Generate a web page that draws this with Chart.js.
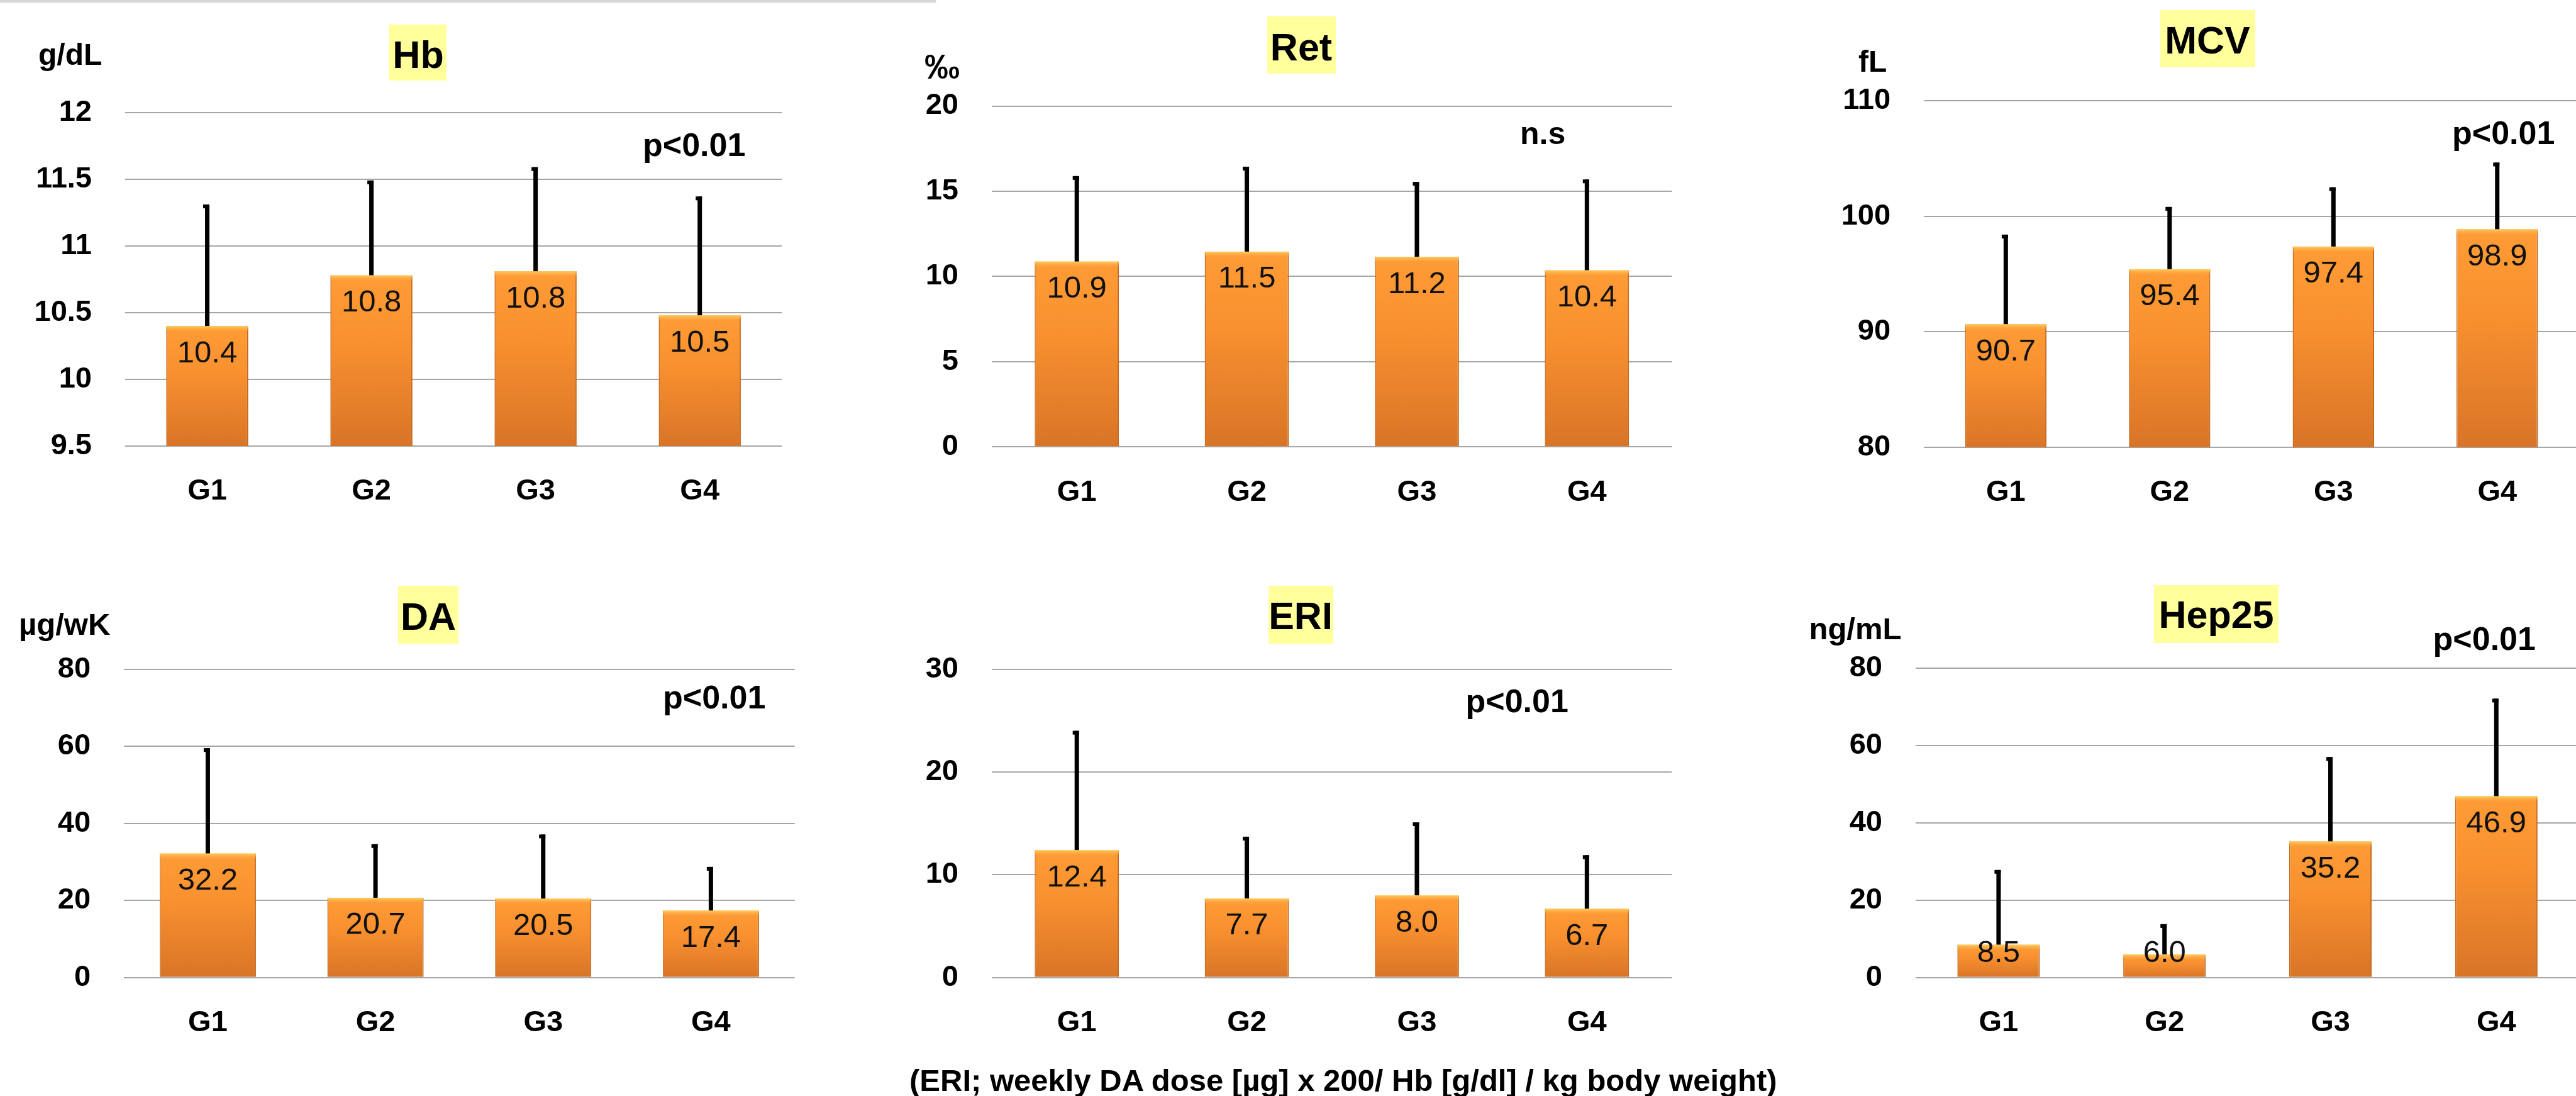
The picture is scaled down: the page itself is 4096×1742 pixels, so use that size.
<!DOCTYPE html>
<html>
<head>
<meta charset="utf-8">
<script src="https://cdn.jsdelivr.net/npm/chart.js@4.4.1/dist/chart.umd.min.js"></script>
<style>
  html, body { margin: 0; padding: 0; background: #fff; overflow: hidden; width: 4096px; height: 1742px; }
  body { position: relative; }
  canvas { position: absolute; }
  #topline { position: absolute; left: 0; top: 0; width: 1488px; height: 3px; background: #d6d6d6; box-shadow: 0 1px 3px rgba(0,0,0,0.18); }
  #note { position: absolute; left: 1446px; top: 1693px; font: bold 49px "Liberation Sans", Arial, sans-serif; line-height: 49px; white-space: nowrap; color: #000; }
</style>
</head>
<body>
<div id="topline"></div>
<div id="note">(ERI; weekly DA dose [µg] x 200/ Hb [g/dl] / kg body weight)</div>
<script>
const FONT = '"Liberation Sans", Arial, sans-serif';

const groups = ['G1', 'G2', 'G3', 'G4'];

// Hb, g/dL
const hbMean  = [10.40, 10.78, 10.81, 10.48];
const hbUpper = [11.31, 11.49, 11.59, 11.37];
const hbTicks = [9.5, 10, 10.5, 11, 11.5, 12];

// Ret, permille
const retMean  = [10.88, 11.46, 11.16, 10.37];
const retUpper = [15.89, 16.44, 15.55, 15.69];
const retTicks = [0, 5, 10, 15, 20];

// MCV, fL
const mcvMean  = [90.67, 95.43, 97.39, 98.89];
const mcvUpper = [98.42, 100.82, 102.52, 104.66];
const mcvTicks = [80, 90, 100, 110];

// DA, ug/wK
const daMean  = [32.2, 20.7, 20.5, 17.4];
const daUpper = [59.5, 34.6, 37.1, 28.7];
const daTicks = [0, 20, 40, 60, 80];

// ERI
const eriMean  = [12.4, 7.7, 8.0, 6.7];
const eriUpper = [24.0, 13.7, 15.1, 11.9];
const eriTicks = [0, 10, 20, 30];

// Hep25, ng/mL
const hepMean  = [8.5, 6.0, 35.2, 46.9];
const hepUpper = [27.8, 13.8, 57.0, 72.1];
const hepTicks = [0, 20, 40, 60, 80];

// page layout (px): canvas box, plot area, bar width share, texts
const panels = [
  { box: [0, 0, 1363, 843], area: [199, 178.7, 1243.2, 709], bar: 0.5,
    mean: hbMean, upper: hbUpper, ticks: hbTicks,
    title: { text: 'Hb', cx: 665, base: 107.6, hl: [618, 39, 710, 128] },
    texts: [{ text: 'g/dL', x: 61, base: 103.3, size: 48 }, { text: 'p<0.01', x: 1022, base: 247.6, size: 52 }] },
  { box: [1363, 0, 2726, 843], area: [1577, 168.5, 2658.5, 710.4], bar: 0.495,
    mean: retMean, upper: retUpper, ticks: retTicks,
    title: { text: 'Ret', cx: 2069, base: 95.8, hl: [2015, 26, 2124, 117] },
    texts: [{ text: '‰', x: 1470, base: 124.9, size: 56 }, { text: 'n.s', x: 2417, base: 228.7, size: 50 }] },
  { box: [2726, 0, 4110, 843], area: [3059.1, 160.4, 4101, 711], bar: 0.497,
    mean: mcvMean, upper: mcvUpper, ticks: mcvTicks,
    title: { text: 'MCV', cx: 3510, base: 85, hl: [3435, 16, 3586, 107] },
    texts: [{ text: 'fL', x: 2955, base: 114.1, size: 48 }, { text: 'p<0.01', x: 3899, base: 228.7, size: 52 }] },
  { box: [0, 843, 1363, 1742], area: [197.1, 1063.6, 1263.7, 1553.7], bar: 0.574,
    mean: daMean, upper: daUpper, ticks: daTicks,
    title: { text: 'DA', cx: 681, base: 1001.2, hl: [633, 931, 729, 1023] },
    texts: [{ text: 'µg/wK', x: 30, base: 1008.7, size: 49 }, { text: 'p<0.01', x: 1054, base: 1126, size: 52 }] },
  { box: [1363, 843, 2726, 1742], area: [1577, 1063.6, 2658.5, 1553.7], bar: 0.495,
    mean: eriMean, upper: eriUpper, ticks: eriTicks,
    title: { text: 'ERI', cx: 2068, base: 1000.1, hl: [2017, 931, 2120, 1023] },
    texts: [{ text: 'p<0.01', x: 2330.5, base: 1131.8, size: 52 }] },
  { box: [2726, 843, 4110, 1742], area: [3046, 1061.9, 4101.2, 1553.7], bar: 0.497,
    mean: hepMean, upper: hepUpper, ticks: hepTicks,
    title: { text: 'Hep25', cx: 3524, base: 998.4, hl: [3425, 930, 3623, 1022] },
    texts: [{ text: 'ng/mL', x: 2876.5, base: 1015.6, size: 49 }, { text: 'p<0.01', x: 3868.6, base: 1032.7, size: 52 }] }
];

const X_AXIS_H = 100;

function barFill(c) {
  if (c.type !== 'data' || !c.chart.chartArea) return '#F28C2E';
  const yS = c.chart.scales.y;
  const top = yS.getPixelForValue(c.raw);
  const bot = yS.getPixelForValue(yS.min);
  const g = c.chart.ctx.createLinearGradient(0, top, 0, bot);
  g.addColorStop(0, '#FF9C35');
  g.addColorStop(0.4, '#F8902F');
  g.addColorStop(1, '#D87427');
  return g;
}

function makeChart(p) {
  const [bx, by, bx2, by2] = p.box;
  const W = bx2 - bx, H = by2 - by;
  const cv = document.createElement('canvas');
  cv.width = W; cv.height = H;
  cv.style.left = bx + 'px'; cv.style.top = by + 'px';
  cv.style.width = W + 'px'; cv.style.height = H + 'px';
  document.body.appendChild(cv);

  const decor = {
    id: 'decor',
    beforeDatasetsDraw(chart) {
      const ctx = chart.ctx;
      ctx.save();
      ctx.translate(-bx, -by);
      const t = p.title;
      ctx.fillStyle = '#FFFF9B';
      ctx.fillRect(t.hl[0], t.hl[1], t.hl[2] - t.hl[0], t.hl[3] - t.hl[1]);
      ctx.fillStyle = '#000';
      ctx.textBaseline = 'alphabetic';
      ctx.textAlign = 'center';
      ctx.font = 'bold 61px ' + FONT;
      ctx.fillText(t.text, t.cx, t.base);
      ctx.textAlign = 'left';
      p.texts.forEach(s => {
        ctx.font = 'bold ' + s.size + 'px ' + FONT;
        ctx.fillText(s.text, s.x, s.base);
      });
      ctx.restore();
    },
    afterDatasetsDraw(chart) {
      const ctx = chart.ctx;
      const yS = chart.scales.y;
      const meta = chart.getDatasetMeta(0);
      ctx.save();
      meta.data.forEach((el, i) => {
        const { x, y, width, base } = el.getProps(['x', 'y', 'width', 'base'], true);
        // light rim on top of the bar
        const g = ctx.createLinearGradient(0, y, 0, y + 9);
        g.addColorStop(0, 'rgba(255,205,100,1)');
        g.addColorStop(1, 'rgba(255,170,70,0)');
        ctx.fillStyle = g;
        ctx.fillRect(x - width / 2, y, width, 9);
        // value label
        ctx.fillStyle = '#111';
        ctx.font = '49px ' + FONT;
        ctx.textAlign = 'center';
        ctx.textBaseline = 'middle';
        const ly = Math.min(y + 44, base - 37);
        ctx.fillText(p.mean[i].toFixed(1), x, ly);
        // upper error bar
        const yu = yS.getPixelForValue(p.upper[i]);
        ctx.fillStyle = '#000';
        ctx.fillRect(x - 3.5, yu, 7, y - yu);
        ctx.fillRect(x - 6.5, yu, 10, 6);
      });
      ctx.restore();
    }
  };

  return new Chart(cv, {
    type: 'bar',
    data: {
      labels: groups,
      datasets: [{
        data: p.mean,
        backgroundColor: barFill,
        borderColor: '#C4681F',
        borderWidth: { left: 1.5, right: 2, top: 0, bottom: 0 },
        borderSkipped: false,
        categoryPercentage: 1,
        barPercentage: p.bar
      }]
    },
    options: {
      responsive: false,
      animation: false,
      devicePixelRatio: 1,
      layout: {
        padding: {
          left: 0,
          top: p.area[1] - by,
          right: bx2 - p.area[2],
          bottom: by2 - p.area[3] - X_AXIS_H
        }
      },
      plugins: { legend: { display: false }, tooltip: { enabled: false }, title: { display: false } },
      scales: {
        x: {
          grid: { display: false, drawTicks: false },
          border: { display: false },
          ticks: { color: '#000', padding: 44, font: { family: FONT, size: 47, weight: 'bold' } },
          afterFit: s => { s.height = X_AXIS_H; }
        },
        y: {
          min: p.ticks[0],
          max: p.ticks[p.ticks.length - 1],
          afterBuildTicks: s => { s.ticks = p.ticks.map(v => ({ value: v })); },
          grid: { color: '#A6A6A6', lineWidth: 2, drawTicks: false },
          border: { display: false },
          ticks: { color: '#000', padding: 53, font: { family: FONT, size: 47, weight: 'bold' },
                   callback: v => String(v) },
          afterFit: s => { s.width = p.area[0] - bx; }
        }
      }
    },
    plugins: [decor]
  });
}

panels.forEach(makeChart);
</script>
</body>
</html>
